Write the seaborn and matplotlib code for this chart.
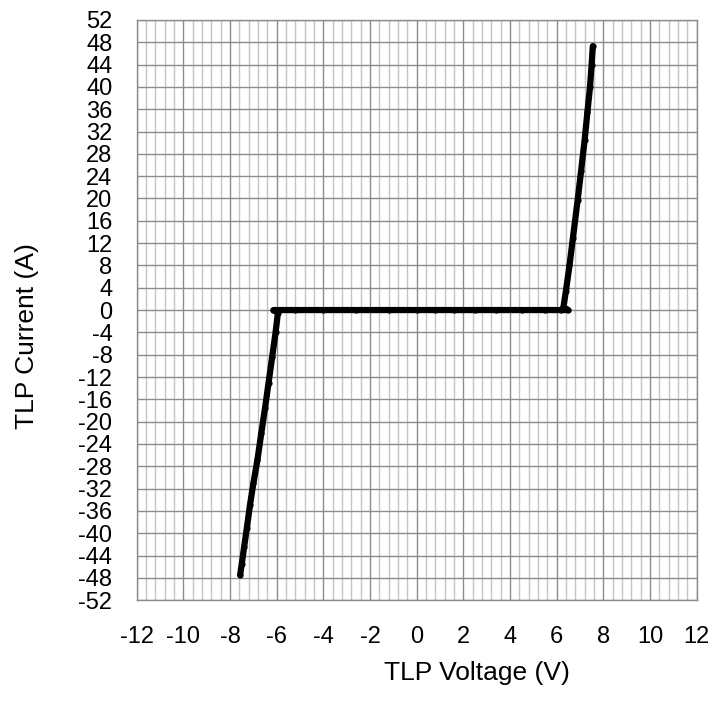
import numpy as np
import pandas as pd
import matplotlib
matplotlib.use("Agg")
import matplotlib.pyplot as plt
from matplotlib.ticker import MultipleLocator
import seaborn as sns

sns.set_style("white")
plt.rcParams['font.family'] = ['Liberation Sans', 'DejaVu Sans']
plt.rcParams['axes.unicode_minus'] = False
plt.rcParams['text.color'] = 'black'
plt.rcParams['axes.labelcolor'] = 'black'
plt.rcParams['xtick.labelcolor'] = 'black'
plt.rcParams['ytick.labelcolor'] = 'black'

# TLP sweep, in measurement order (negative branch, flat region, positive branch)
voltage = [-7.57, -7.50, -7.40, -7.28, -7.15, -7.00, -6.83, -6.66, -6.50, -6.35,
           -6.20, -6.05, -5.95, -6.14, -5.2, -4.0, -2.6, -1.2, 0.0, 0.8,
           1.6, 2.5, 3.4, 4.5, 5.5, 6.2, 6.5, 6.29, 6.40, 6.55, 6.70, 6.90,
           7.05, 7.20, 7.32, 7.43, 7.50, 7.55]
current = [-47.5, -45.5, -42.5, -39.0, -35.0, -31.0, -26.9, -22.0, -17.5, -13.0,
           -8.5, -4.0, -0.5, 0.0, 0.0, 0.0, 0.0, 0.0, 0.0, 0.0,
           0.0, 0.0, 0.0, 0.0, 0.0, 0.0, 0.0, 0.5, 3.5, 8.0, 13.0, 19.7,
           25.0, 30.5, 35.5, 40.0, 44.0, 47.3]

df = pd.DataFrame({'TLP Voltage (V)': voltage, 'TLP Current (A)': current})

fig = plt.figure(figsize=(7.2, 7.24), dpi=100)
ax = fig.add_axes([0.19, 0.171, 0.7775, 0.8015])

ax.set_xlim(-12, 12)
ax.set_ylim(-52, 52)
ax.xaxis.set_major_locator(MultipleLocator(2))
ax.xaxis.set_minor_locator(MultipleLocator(0.4))
ax.yaxis.set_major_locator(MultipleLocator(4))

ax.grid(which='minor', axis='x', color='#c4c4c4', linewidth=1.0)
ax.grid(which='major', axis='both', color='#8c8c8c', linewidth=1.0)
ax.set_axisbelow(True)

sns.lineplot(data=df, x='TLP Voltage (V)', y='TLP Current (A)', sort=False,
             color='black', linewidth=4.5, marker='o', markersize=4.5,
             markeredgewidth=0, solid_capstyle='round', solid_joinstyle='round', ax=ax)

for s in ax.spines.values():
    s.set_color('#8c8c8c')
    s.set_linewidth(1.0)

ax.tick_params(axis='both', which='major', direction='out', length=6.5, width=1,
               color='#8c8c8c', labelsize=17)
ax.tick_params(axis='y', which='major', pad=11)
ax.tick_params(axis='x', which='major', pad=12)
ax.tick_params(axis='x', which='minor', length=0)
ax.set_xlabel('TLP Voltage (V)', fontsize=19)
ax.set_ylabel('TLP Current (A)', fontsize=19)
ax.xaxis.set_label_coords(0.608, -0.105)
ax.yaxis.set_label_coords(-0.175, 0.455)

fig.savefig('out.png', dpi=100)
